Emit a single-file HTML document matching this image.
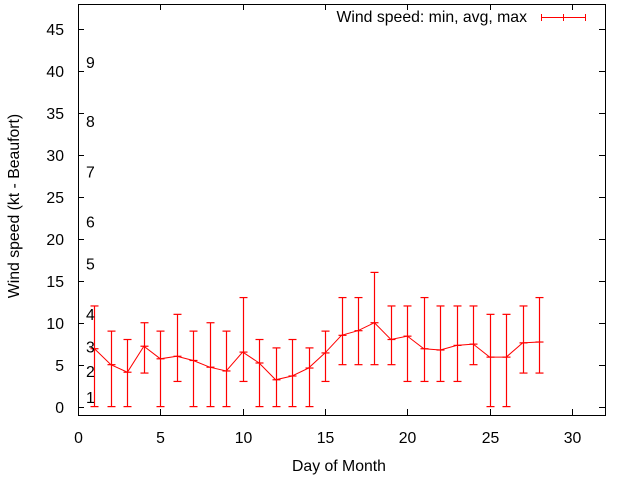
<!DOCTYPE html>
<html><head><meta charset="utf-8"><style>
body{margin:0;background:#fff}
svg{display:block;font-family:"Liberation Sans",sans-serif}
</style></head><body>
<svg id="chart" width="640" height="480">
<rect x="0" y="0" width="640" height="480" fill="#fff"/>
<g id="grid"></g>
<g id="marks"></g>
<g id="labels"></g>
</svg>
<script>
const days=[1,2,3,4,5,6,7,8,9,10,11,12,13,14,15,16,17,18,19,20,21,22,23,24,25,26,27,28];
const avgVals=[6.9,5.0,4.1,7.2,5.7,6.0,5.5,4.7,4.25,6.5,5.2,3.2,3.65,4.6,6.4,8.5,9.05,10,8,8.4,6.9,6.75,7.3,7.45,5.9,5.9,7.6,7.7];
const minVals=[0,0,0,4,0,3,0,0,0,3,0,0,0,0,3,5,5,5,5,3,3,3,3,5,0,0,4,4];
const maxVals=[12,9,8,10,9,11,9,10,9,13,8,7,8,7,9,13,13,16,12,12,13,12,12,12,11,11,12,13];
const xTicks=[0,5,10,15,20,25,30];
const yTicks=[0,5,10,15,20,25,30,35,40,45];
const beaufortLabels=["1","2","3","4","5","6","7","8","9"];
const beaufortPos=[1.1,4.2,7.1,11,17,22,28,34,41];

const L=78,R=605,T=4,B=415,xMin=0,xMax=32,yMin=-1,yMax=48;
const X=v=>L+(v-xMin)/(xMax-xMin)*(R-L);
const Y=v=>B-(v-yMin)/(yMax-yMin)*(B-T);
const NS="http://www.w3.org/2000/svg";
const FS=15.8;
function mk(tag,attrs,parent,text){const e=document.createElementNS(NS,tag);for(const k in attrs)e.setAttribute(k,attrs[k]);if(text!==undefined)e.textContent=text;parent.appendChild(e);return e;}
const grid=document.getElementById('grid'),marks=document.getElementById('marks'),labels=document.getElementById('labels');

let frame=mk('rect',{x:L+0.5,y:T+0.5,width:R-L,height:B-T,fill:'none',stroke:'#000','stroke-width':1},grid);



xTicks.forEach(v=>{const x=Math.round(X(v))+0.5;
 mk('line',{x1:x,y1:B,x2:x,y2:B-6,stroke:'#000'},grid);
 mk('line',{x1:x,y1:T,x2:x,y2:T+6,stroke:'#000'},grid);
 const t=mk('text',{x:x,y:443,'text-anchor':'middle','font-size':FS,fill:'#000'},labels,String(v));
 
 
});
yTicks.forEach(v=>{const y=Math.round(Y(v))+0.5;
 mk('line',{x1:L,y1:y,x2:L+6,y2:y,stroke:'#000'},grid);
 mk('line',{x1:R,y1:y,x2:R-6,y2:y,stroke:'#000'},grid);
 const t=mk('text',{x:64,y:y+5.5,'text-anchor':'end','font-size':FS,fill:'#000'},labels,String(v));
 
 
});
beaufortLabels.forEach((s,i)=>{
 const t=mk('text',{x:86,y:Y(beaufortPos[i])+5.5,'font-size':FS,fill:'#000'},labels,s);
 
 
});

const red='#ff0000';
let pts=days.map((d,i)=>X(d)+','+Y(avgVals[i])).join(' ');
const line=mk('polyline',{points:pts,fill:'none',stroke:red,'stroke-width':1},marks);


days.forEach((d,i)=>{
 const x=Math.round(X(d))+0.5;
 const g=mk('g',{},marks);
 
 
 mk('line',{x1:x,y1:Y(maxVals[i]),x2:x,y2:Y(minVals[i]),stroke:red,'stroke-width':1.2},g);
 mk('line',{x1:x-4,y1:Y(maxVals[i]),x2:x+4,y2:Y(maxVals[i]),stroke:red,'stroke-width':1.2},g);
 mk('line',{x1:x-4,y1:Y(minVals[i]),x2:x+4,y2:Y(minVals[i]),stroke:red,'stroke-width':1.2},g);
 mk('line',{x1:x-4,y1:Y(avgVals[i]),x2:x+4,y2:Y(avgVals[i]),stroke:red,'stroke-width':1.2},g);
});

let t=mk('text',{x:527,y:22,'text-anchor':'end','font-size':FS,fill:'#000'},labels,'Wind speed: min, avg, max');


const lg=mk('g',{},labels);


mk('line',{x1:541,y1:17.5,x2:586,y2:17.5,stroke:red},lg);
[541.5,563.5,585.5].forEach(x=>mk('line',{x1:x,y1:14,x2:x,y2:21,stroke:red},lg));

t=mk('text',{x:339,y:471,'text-anchor':'middle','font-size':FS,fill:'#000'},labels,'Day of Month');


t=mk('text',{x:19,y:206,'text-anchor':'middle','font-size':FS,fill:'#000',transform:'rotate(-90 19 206)'},labels,'Wind speed (kt - Beaufort)');


</script>
</body></html>
